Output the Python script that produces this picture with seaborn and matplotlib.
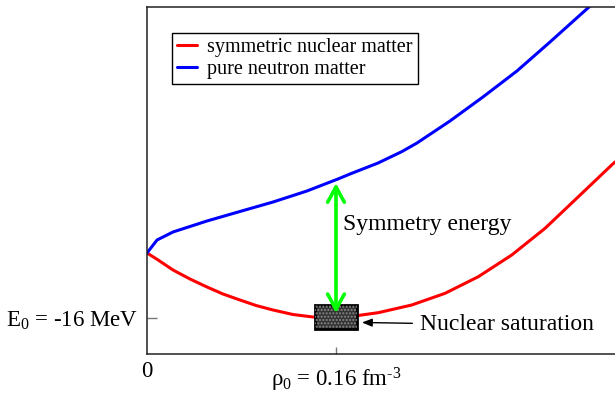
#!/usr/bin/env python3
#===============================================================================
# plot equation of state: symmetric nuclear matter vs pure neutron matter
#===============================================================================

# Imports ======================================================================

import matplotlib
matplotlib.use('Agg')
import matplotlib.pyplot as plt
import matplotlib.transforms as mtransforms
from matplotlib.lines import Line2D
from matplotlib.patches import Rectangle
import pandas as pd
import seaborn as sns

# Data =========================================================================

snm_rho = [0.0, 0.0085, 0.022, 0.0364, 0.0508, 0.0643, 0.0787, 0.0923,
           0.1067, 0.1236, 0.1405, 0.160, 0.1775, 0.1958, 0.2241, 0.2523,
           0.2805, 0.3088, 0.337, 0.3652, 0.3934, 0.3962]
snm_e = [0.0, -1.55, -4.18, -6.40, -8.37, -10.09, -11.57, -12.92,
         -14.03, -15.14, -15.75, -16.0, -15.43, -14.69, -12.80, -9.93,
         -5.83, -0.49, 6.08, 13.86, 21.66, 22.4]

pnm_rho = [0.0, 0.0085, 0.022, 0.0508, 0.0787, 0.1067, 0.1354, 0.1617,
           0.1719, 0.1956, 0.2159, 0.2286, 0.2565, 0.2844, 0.3132, 0.3412,
           0.3742, 0.3835]
pnm_e = [0.0, 3.20, 5.17, 7.88, 10.22, 12.55, 15.26, 18.22,
         19.45, 22.15, 24.98, 27.08, 32.49, 38.40, 44.80, 51.94,
         60.55, 63.0]

series = ['symmetric nuclear matter', 'pure neutron matter']
colors = ['#ff0000', '#0000ff']

rho0 = 0.16       # saturation density
e0 = -16.0        # saturation energy
e_sym_top = 17.2  # neutron matter energy at rho0 (arrow end)


# Functions ====================================================================

def main():
    sns.set_theme(style='white')
    plt.rcParams['font.family'] = ['Liberation Serif', 'DejaVu Serif']
    plt.rcParams['mathtext.fontset'] = 'custom'
    plt.rcParams['mathtext.rm'] = 'Liberation Serif'
    plt.rcParams['mathtext.it'] = 'Liberation Serif:italic'
    plt.rcParams['text.color'] = 'black'

    df = pd.concat([
        pd.DataFrame({'rho': snm_rho, 'E': snm_e, 'matter': series[0]}),
        pd.DataFrame({'rho': pnm_rho, 'E': pnm_e, 'matter': series[1]}),
    ], ignore_index=True)

    fig = plt.figure(figsize=(6.15, 3.94), dpi=100)
    ax = fig.add_axes([147 / 615, 1 - 354 / 394, 468 / 615, 347 / 394])

    sns.lineplot(data=df, x='rho', y='E', hue='matter', hue_order=series,
                 palette=colors, linewidth=2.2, sort=False, estimator=None,
                 legend=False, ax=ax, zorder=2)

    ax.set(xlim=(0, 0.3962), ylim=(-24.86, 60.55), xlabel='', ylabel='')

    # spines
    ax.spines['right'].set_visible(False)
    for s in ('left', 'top', 'bottom'):
        ax.spines[s].set_color('#222222')
        ax.spines[s].set_linewidth(1.1)

    # ticks
    ax.set_yticks([e0])
    ax.set_yticklabels(['E$_0$ = -16 MeV'])
    ax.tick_params(axis='y', left=True, direction='in', length=7, width=1,
                   color='#777777', labelcolor='black', pad=6.5,
                   labelsize=16.5)
    ax.set_xticks([rho0])
    ax.set_xticklabels([''])
    ax.tick_params(axis='x', bottom=True, direction='in', length=5, width=1,
                   color='#777777')

    trans = mtransforms.blended_transform_factory(ax.transData, ax.transAxes)
    ax.text(0, -0.066, '0', transform=trans, ha='center', va='baseline',
            fontsize=16.5, clip_on=False)
    ax.text(rho0, -0.095, r'ρ$_0$ = 0.16 fm$^{\text{-}3}$', transform=trans,
            ha='center', va='baseline', fontsize=16.5, clip_on=False)

    # saturation box
    bw, bh = 0.035, 5.9
    ax.add_patch(Rectangle((rho0 - bw / 2, e0 + 0.25 - bh / 2), bw, bh,
                           facecolor='#333333', edgecolor='black', lw=2,
                           zorder=3))
    ax.add_patch(Rectangle((rho0 - bw / 2, e0 + 0.25 - bh / 2), bw, bh,
                           fill=False, edgecolor='#8a8a8a', hatch='.....',
                           lw=0, zorder=3.5))

    # symmetry energy arrow
    ax.annotate('', xy=(rho0, e_sym_top), xytext=(rho0, e0 + 1.2),
                arrowprops=dict(arrowstyle='<->,head_length=0.55,head_width=0.3',
                                color='#00ff00', lw=2.6, shrinkA=0, shrinkB=0,
                                mutation_scale=20), zorder=4)
    ax.text(0.166, 6.9, 'Symmetry energy', va='center', ha='left',
            fontsize=17)
    ax.annotate('Nuclear saturation', xy=(0.182, -17.1),
                xytext=(0.231, -17.7), va='center', ha='left', fontsize=17,
                arrowprops=dict(arrowstyle='-|>,head_length=0.5,head_width=0.2',
                                color='black', lw=1, shrinkA=3, shrinkB=0,
                                mutation_scale=12))

    handles = [Line2D([], [], color=c, lw=2.2) for c in colors]
    leg = ax.legend(handles, series, loc='upper left',
                    bbox_to_anchor=(0.053, 0.925), frameon=True,
                    fancybox=False, edgecolor='black', framealpha=1,
                    fontsize=14.5, handlelength=1.0, handletextpad=0.5,
                    borderpad=0.25, borderaxespad=0, labelspacing=0.15)
    leg.get_frame().set_linewidth(1.0)
    for t in leg.get_texts():
        t.set_color('black')

    fig.savefig('out.png', dpi=100)


# Execute ======================================================================

if __name__ == '__main__':
    main()
